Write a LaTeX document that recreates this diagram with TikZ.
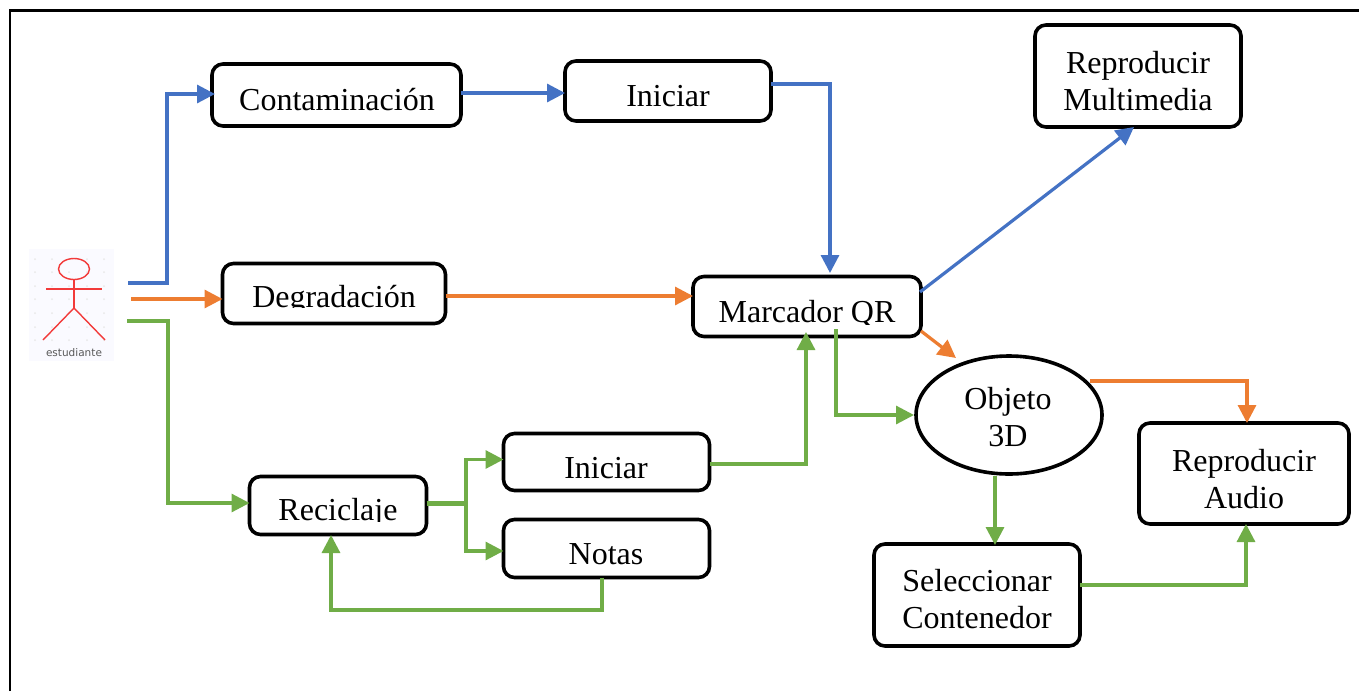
\documentclass[tikz,border=0pt]{standalone}
\usepackage{fontspec}
\setmainfont{Liberation Serif}
\usetikzlibrary{arrows.meta,shapes.geometric}
\definecolor{cblue}{HTML}{4472C4}
\definecolor{corange}{HTML}{ED7D31}
\definecolor{cgreen}{HTML}{70AD47}
\definecolor{cred}{HTML}{F23A3A}
\tikzset{
 x=1pt,y=-1pt,
 box/.style={draw=black,line width=3.6pt,rounded corners=11pt,fill=white,inner sep=0pt,outer sep=0pt},
 lab/.style={inner sep=0pt,align=center,font=\fontsize{32}{37}\selectfont},
 conn/.style={line width=3.2pt,-{Triangle[length=18pt,width=18pt]}},
 bluec/.style={draw=cblue},
 orangec/.style={draw=corange},
 greenc/.style={draw=cgreen},
 fig/.style={draw=cred,line width=1.4pt},
}
\begin{document}
\begin{tikzpicture}
\useasboundingbox (0,0) rectangle (1359,691);
\fill[white] (0,0) rectangle (1359,691);
% frame
\coordinate (fa) at (10,691);
\coordinate (fb) at (10,10.5);
\coordinate (fc) at (1359,10.5);
\draw[line width=2.4pt,black] (fa)--(fb)--(fc);
% actor
\fill[blue!2!white] (29,249) rectangle (114,361);
\foreach \dx in {35,52,69,87,104}{\foreach \dy in {259,272,286,299,313,327,340}{\fill[black!9] (\dx,\dy) circle (1pt);}}
\node[fig,ellipse,minimum width=31pt,minimum height=21pt,inner sep=0pt] (head) at (74,269) {};
\coordinate (arml) at (46,289);
\coordinate (armr) at (102,289);
\coordinate (hip) at (74,308);
\coordinate (legl) at (43,340);
\coordinate (legr) at (105,340);
\draw[fig] (arml)--(armr);
\draw[fig] (head.south)--(hip);
\draw[fig] (legl)--(hip)--(legr);
\node[inner sep=0pt,text=black!65] (estud) at (74,353) {\fontspec{DejaVu Sans}\fontsize{10.5}{12}\selectfont estudiante};
% boxes
\node[box,minimum width=249pt,minimum height=62pt] (cont) at (336.5,95) {};
\node[lab] (contt) at (337,100) {Contaminación};
\node[box,minimum width=206pt,minimum height=60pt] (ini1) at (668,91) {};
\node[lab] (ini1t) at (668,96) {Iniciar};
\node[box,minimum width=206pt,minimum height=102pt] (mult) at (1138,76) {};
\node[lab] (multt) at (1138,81) {Reproducir\\Multimedia};
\node[box,minimum width=223pt,minimum height=60pt] (degr) at (334,293.5) {};
\node[box,minimum width=228pt,minimum height=60pt] (marc) at (807,306.5) {};
\node[box,minimum width=177pt,minimum height=58pt] (reci) at (338,505.5) {};
\node[box,minimum width=206pt,minimum height=57pt] (ini2) at (606.5,462) {};
\node[lab] (ini2t) at (606,468) {Iniciar};
\node[box,minimum width=206pt,minimum height=58pt] (nota) at (606.5,548.5) {};
\node[lab] (notat) at (606,554) {Notas};
\node[box,ellipse,minimum width=186pt,minimum height=118pt] (obj) at (1009,415) {};
\node[lab] (objt) at (1008,417) {Objeto\\3D};
\node[box,minimum width=210pt,minimum height=101pt] (audi) at (1244,473.5) {};
\node[lab] (audit) at (1244,479) {Reproducir\\Audio};
\node[box,minimum width=206pt,minimum height=102pt] (sele) at (977,595) {};
\node[lab] (selet) at (977,599.5) {Seleccionar\\Contenedor};
% labels cut off at the lower edge
\begin{scope}
\clip (225,265) rectangle (444,307);
\node[lab] (degrt) at (334,300) {Degradación};
\end{scope}
\begin{scope}
\clip (695,280) rectangle (919,324);
\node[lab] (marct) at (807,314) {Marcador QR};
\end{scope}
\begin{scope}
\clip (252,480) rectangle (424,521);
\node[lab] (recit) at (338,513) {Reciclaje};
\end{scope}
% blue
\coordinate (sb) at (128,283);
\draw[conn,bluec] (sb)-|(167,94)--([xshift=3pt]cont.west|-0,94);
\draw[conn,bluec] (cont.east|-0,93)--(ini1.west|-0,93);
\coordinate (bt) at (830,273);
\draw[conn,bluec] (ini1.east|-0,84)-|(bt);
\coordinate (mb) at (920,292);
\coordinate (mbe) at (1134,127);
\draw[conn,bluec] (mb)--(mbe);
% orange
\coordinate (so) at (131,299);
\draw[conn,orangec] (so)--(degr.west|-so);
\draw[conn,orangec] (degr.east|-0,296)--(marc.west|-0,296);
\coordinate (mo) at (921,331);
\coordinate (moe) at (956,358);
\draw[conn,orangec] (mo)--(moe);
\coordinate (oo) at (1090,381);
\draw[conn,orangec] (oo)-|(audi.north-|1247,0);
% green
\coordinate (sg) at (127,321);
\draw[conn,greenc] (sg)-|(168,503)--(reci.west|-0,503);
\coordinate (jn) at (466,503.5);
\draw[line width=5pt,greenc] (reci.east|-0,503.5)--(jn);
\draw[conn,greenc] (jn)|-(ini2.west|-0,459.5);
\draw[conn,greenc] (jn)|-(nota.west|-0,551);
\draw[conn,greenc] (ini2.east|-0,464)-|(806,332);
\coordinate (mg) at (836,329);
\draw[conn,greenc] (mg)|-(914,415);
\draw[conn,greenc] (nota.south-|602,0)|-(331,610)--(331,535);
\draw[conn,greenc] (995,476)--(995,545);
\draw[conn,greenc] (sele.east|-0,585)-|(1246,524);
\end{tikzpicture}
\end{document}
